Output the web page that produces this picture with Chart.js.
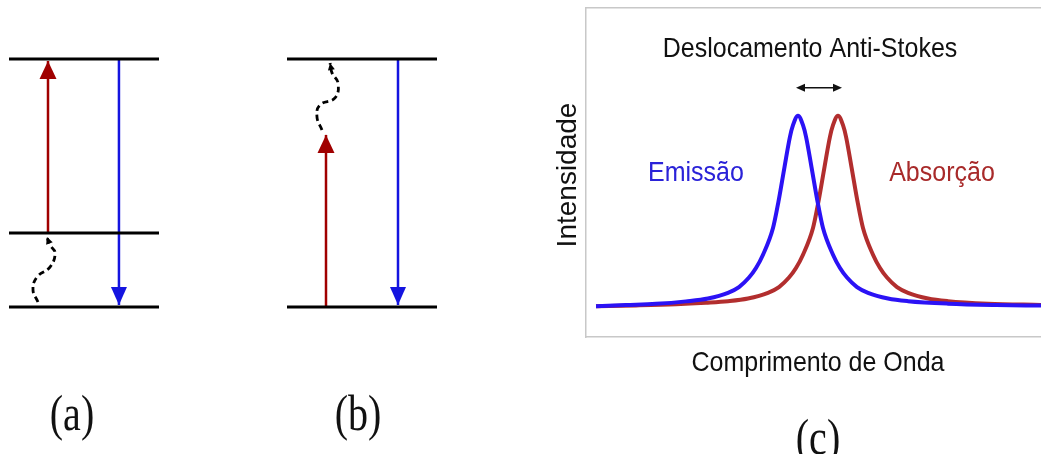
<!DOCTYPE html>
<html>
<head>
<meta charset="utf-8">
<script src="https://cdn.jsdelivr.net/npm/chart.js@4.4.1/dist/chart.umd.min.js"></script>
<style>
  html, body { margin: 0; padding: 0; background: #fff; overflow: hidden; }
  body { width: 1041px; height: 454px; position: relative; }
  .box { position: absolute; top: 0; height: 454px; }
</style>
</head>
<body>
<div class="box" style="left:0;width:230px"><canvas id="chartA" width="230" height="454"></canvas></div>
<div class="box" style="left:230px;width:280px"><canvas id="chartB" width="280" height="454"></canvas></div>
<div class="box" style="left:540px;width:501px"><canvas id="chartC" width="501" height="454"></canvas></div>
<script>
// niveis de energia (0 = fundamental, 1 = excitado)
const niveisA = [0, 0.298, 1]
const niveisB = [0, 1]

// (a) setas: [x, y] inicio e fim
const setaVermelhaA = [[0.26, 0.298], [0.26, 0.992]]
const setaAzulA = [[0.733, 1], [0.733, 0.008]]
const onduladaAX = [0.193, 0.16, 0.187, 0.273, 0.307, 0.273, 0.253]
const onduladaAY = [0.02, 0.069, 0.121, 0.161, 0.218, 0.25, 0.282]

// (b)
const setaVermelhaB = [[0.26, 0], [0.26, 0.694]]
const setaAzulB = [[0.74, 1], [0.74, 0.008]]
const onduladaBX = [0.233, 0.2, 0.22, 0.32, 0.34, 0.3, 0.287]
const onduladaBY = [0.714, 0.766, 0.815, 0.843, 0.903, 0.944, 0.984]

// (c) espectros
const emissaoX = [2, 8, 14, 20, 24.4, 28.4, 30.6, 32.6, 34, 35.4, 37.4, 38.5, 39.7, 40.8, 41.4, 42.4, 43.4, 44, 45.1, 46.3, 47.4, 49.4, 50.8, 52.2, 54.2, 56.4, 60.4, 64.4, 72.4, 82, 91]
const emissaoY = [0, 0.006, 0.012, 0.025, 0.04, 0.07, 0.1, 0.15, 0.2, 0.27, 0.41, 0.55, 0.73, 0.89, 0.95, 1.0, 0.95, 0.89, 0.73, 0.55, 0.41, 0.27, 0.2, 0.15, 0.1, 0.07, 0.04, 0.026, 0.013, 0.006, 0.003]
const absorcaoX = [2, 10, 18, 24, 28.4, 32.4, 36.4, 38.6, 40.6, 42, 43.4, 45.4, 46.5, 47.7, 48.8, 49.4, 50.4, 51.4, 52, 53.1, 54.3, 55.4, 57.4, 58.8, 60.2, 62.2, 64.4, 68.4, 72.4, 80.4, 91]
const absorcaoY = [0, 0.004, 0.01, 0.018, 0.026, 0.04, 0.07, 0.1, 0.15, 0.2, 0.27, 0.41, 0.55, 0.73, 0.89, 0.95, 1.0, 0.95, 0.89, 0.73, 0.55, 0.41, 0.27, 0.2, 0.15, 0.1, 0.07, 0.04, 0.026, 0.013, 0.006]
const deslocamento = [[42, 1.147], [51.2, 1.147]]

const VERMELHO = '#a00000'
const AZUL = '#1414e0'

const toPts = (xs, ys) => xs.map((x, i) => ({x: x, y: ys[i]}))
const pairPts = (arr) => arr.map(p => ({x: p[0], y: p[1]}))

function texto(ctx, str, x, y, opts) {
  ctx.save()
  ctx.translate(x, y)
  if (opts.rot) ctx.rotate(opts.rot)
  ctx.scale(opts.sx || 1, opts.sy || 1)
  ctx.font = opts.font
  ctx.fillStyle = opts.color || '#111'
  ctx.textAlign = 'center'
  ctx.textBaseline = 'middle'
  ctx.fillText(str, 0, 0)
  ctx.restore()
}

function cabeca(ctx, tip, from, len, half, color) {
  const ang = Math.atan2(tip.y - from.y, tip.x - from.x)
  ctx.save()
  ctx.translate(tip.x, tip.y)
  ctx.rotate(ang)
  ctx.fillStyle = color
  ctx.beginPath()
  ctx.moveTo(0, 0)
  ctx.lineTo(-len, -half)
  ctx.lineTo(-len, half)
  ctx.closePath()
  ctx.fill()
  ctx.restore()
}

// desenha as pontas das setas no ultimo ponto de cada dataset marcado
const setasPlugin = {
  id: 'setas',
  afterDatasetsDraw(chart) {
    const ctx = chart.ctx
    chart.data.datasets.forEach((ds, i) => {
      if (!ds.ponta) return
      const pts = chart.getDatasetMeta(i).data
      const tip = pts[pts.length - 1]
      const from = pts[pts.length - 2]
      cabeca(ctx, tip, from, ds.ponta[0], ds.ponta[1], ds.borderColor)
    })
  }
}

const rotuloPlugin = {
  id: 'rotulo',
  afterDraw(chart, args, opts) {
    const a = chart.chartArea
    texto(chart.ctx, opts.text, a.left + opts.dx, a.bottom + opts.dy,
      {font: '40px "Liberation Serif"', sx: 1, sy: 1.25, color: '#111'})
  }
}

function diagrama(id, niveis, setaV, setaA, ondX, ondY, pad, label, dx) {
  const datasets = niveis.map(n => ({
    data: [{x: 0, y: n}, {x: 1, y: n}],
    borderColor: '#000', borderWidth: 3, pointRadius: 0
  }))
  datasets.push({
    data: pairPts(setaV), borderColor: VERMELHO, borderWidth: 2.5, pointRadius: 0,
    ponta: [18, 8.5]
  })
  datasets.push({
    data: pairPts(setaA), borderColor: AZUL, borderWidth: 2.5, pointRadius: 0,
    ponta: [18, 8]
  })
  datasets.push({
    data: toPts(ondX, ondY), borderColor: '#000', borderWidth: 2.8, pointRadius: 0,
    borderDash: [6, 4], tension: 0.45, ponta: [7, 3.5]
  })
  return new Chart(document.getElementById(id), {
    type: 'line',
    data: {datasets: datasets},
    options: {
      responsive: false,
      animation: false,
      layout: {padding: pad},
      plugins: {legend: {display: false}, tooltip: {enabled: false},
        rotulo: {text: label, dx: dx, dy: 110}},
      scales: {
        x: {type: 'linear', min: 0, max: 1, display: false},
        y: {type: 'linear', min: 0, max: 1, display: false}
      },
      datasets: {line: {clip: false}}
    },
    plugins: [setasPlugin, rotuloPlugin]
  })
}

diagrama('chartA', niveisA, setaVermelhaA, setaAzulA, onduladaAX, onduladaAY,
  {left: 9, right: 71, top: 59, bottom: 147}, '(a)', 63)
diagrama('chartB', niveisB, setaVermelhaB, setaAzulB, onduladaBX, onduladaBY,
  {left: 57, right: 73, top: 59, bottom: 147}, '(b)', 71)

const espectroPlugin = {
  id: 'espectro',
  afterDraw(chart) {
    const ctx = chart.ctx
    const a = chart.chartArea
    const x = chart.scales.x
    const y = chart.scales.y
    const fonte = '25px "Liberation Sans"'
    texto(ctx, 'Deslocamento Anti-Stokes', 270, 49, {font: fonte, sy: 1.13})
    texto(ctx, 'Emissão', x.getPixelForValue(22), y.getPixelForValue(0.7), {font: fonte, sy: 1.13, color: '#2a22d8'})
    texto(ctx, 'Absorção', x.getPixelForValue(71.2), y.getPixelForValue(0.7), {font: fonte, sy: 1.13, color: '#a82a2a'})
    texto(ctx, 'Intensidade', a.left - 18, 175, {font: '28px "Liberation Sans"', rot: -Math.PI / 2})
    texto(ctx, 'Comprimento de Onda', 278, a.bottom + 26, {font: fonte, sy: 1.13})
    texto(ctx, '(c)', 278, a.bottom + 104, {font: '40px "Liberation Serif"', sy: 1.25})

    // seta dupla do deslocamento
    const p1 = {x: x.getPixelForValue(deslocamento[0][0]), y: y.getPixelForValue(deslocamento[0][1])}
    const p2 = {x: x.getPixelForValue(deslocamento[1][0]), y: y.getPixelForValue(deslocamento[1][1])}
    ctx.save()
    ctx.strokeStyle = '#111'
    ctx.lineWidth = 1.5
    ctx.beginPath()
    ctx.moveTo(p1.x + 4, p1.y)
    ctx.lineTo(p2.x - 4, p2.y)
    ctx.stroke()
    ctx.restore()
    cabeca(ctx, p1, p2, 9, 4, '#111')
    cabeca(ctx, p2, p1, 9, 4, '#111')
  }
}

const borda = {display: true, color: '#c8c8c8', width: 1.5}

new Chart(document.getElementById('chartC'), {
  type: 'line',
  data: {
    datasets: [
      {
        label: 'Emissão',
        data: toPts(emissaoX, emissaoY),
        borderColor: '#2b12f5', borderWidth: 4, pointRadius: 0,
        cubicInterpolationMode: 'monotone'
      },
      {
        label: 'Absorção',
        data: toPts(absorcaoX, absorcaoY),
        borderColor: '#b22e2e', borderWidth: 4, pointRadius: 0,
        cubicInterpolationMode: 'monotone'
      }
    ]
  },
  options: {
    responsive: false,
    animation: false,
    layout: {padding: {left: 46, right: 0, top: 8, bottom: 117}},
    plugins: {legend: {display: false}, tooltip: {enabled: false}},
    scales: {
      x: {type: 'linear', min: 0, max: 91, position: 'bottom',
        grid: {display: false, drawTicks: false}, ticks: {display: false}, border: borda},
      xTopo: {type: 'linear', min: 0, max: 91, position: 'top',
        grid: {display: false, drawTicks: false}, ticks: {display: false}, border: borda},
      y: {type: 'linear', min: -0.162, max: 1.565,
        grid: {display: false, drawTicks: false}, ticks: {display: false}, border: borda}
    }
  },
  plugins: [espectroPlugin]
})
</script>
</body>
</html>
